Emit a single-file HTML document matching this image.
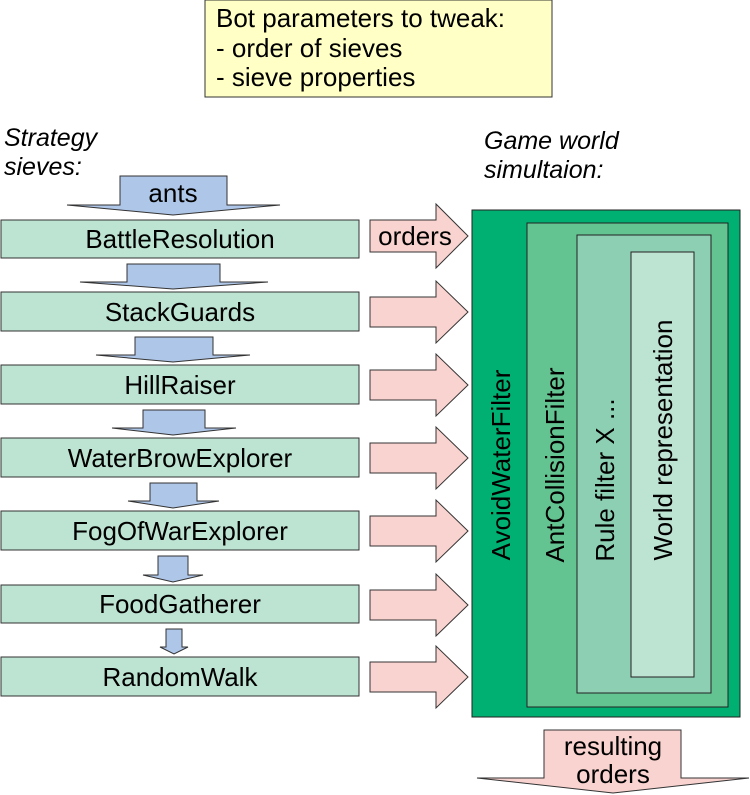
<!DOCTYPE html>
<html><head><meta charset="utf-8"><style>body{margin:0;background:#fff}svg{display:block}</style></head><body>
<svg width="750" height="795" xmlns="http://www.w3.org/2000/svg" font-family="Liberation Sans, sans-serif" fill="#000">
<rect x="205" y="0" width="347" height="97" fill="#ffffc6" stroke="#333" stroke-width="1"/>
<text x="216" y="27" font-size="26">Bot parameters to tweak:</text>
<text x="216" y="57" font-size="26">- order of sieves</text>
<text x="216" y="86" font-size="26">- sieve properties</text>
<text x="4" y="146" font-size="25" font-style="italic">Strategy</text>
<text x="4" y="175" font-size="25" font-style="italic">sieves:</text>
<text x="484" y="149" font-size="25" font-style="italic">Game world</text>
<text x="484" y="178" font-size="25" font-style="italic">simultaion:</text>
<g fill="#aec6e8" stroke="#333" stroke-width="1">
<polygon points="120,176 227,176 227,205 280,205 173,215 67,205 120,205"/>
<polygon points="127,264 220,264 220,282 268,282 173,289 80,282 127,282"/>
<polygon points="135,337 213,337 213,355 250,355 173,362 96,355 135,355"/>
<polygon points="143,410 205,410 205,428 236,428 173,435 112,428 143,428"/>
<polygon points="150,483 197,483 197,501 219,501 173,508 128,501 150,501"/>
<polygon points="158,556 188,556 188,575 203,575 173,582 143,575 158,575"/>
<polygon points="166,629 182,629 182,647 188,647 174,654 160,647 166,647"/>
</g>
<text x="173" y="202" font-size="26" text-anchor="middle">ants</text>
<g fill="#bde3d2" stroke="#333" stroke-width="1">
<rect x="1" y="220" width="358" height="38"/>
<rect x="1" y="292" width="358" height="39"/>
<rect x="1" y="365" width="358" height="39"/>
<rect x="1" y="438" width="358" height="39"/>
<rect x="1" y="511" width="358" height="39"/>
<rect x="1" y="585" width="358" height="38"/>
<rect x="1" y="657" width="358" height="39"/>
</g>
<g font-size="26" text-anchor="middle">
<text x="180" y="248">BattleResolution</text>
<text x="180" y="321">StackGuards</text>
<text x="180" y="394">HillRaiser</text>
<text x="180" y="467">WaterBrowExplorer</text>
<text x="180" y="540">FogOfWarExplorer</text>
<text x="180" y="613">FoodGatherer</text>
<text x="180" y="686">RandomWalk</text>
</g>
<g fill="#f9d3d0" stroke="#333" stroke-width="1">
<polygon points="370,220 436,220 436,204 468,236 436,268 436,252 370,252"/>
<polygon points="370,297 436,297 436,281 468,312 436,343 436,327 370,327"/>
<polygon points="370,370 436,370 436,354 468,385 436,416 436,400 370,400"/>
<polygon points="370,443 436,443 436,427 468,458 436,489 436,473 370,473"/>
<polygon points="370,516 436,516 436,500 468,531 436,562 436,546 370,546"/>
<polygon points="370,590 436,590 436,574 468,605 436,636 436,620 370,620"/>
<polygon points="370,662 436,662 436,646 468,677 436,708 436,692 370,692"/>
<polygon points="544,730 681,730 681,778 749,778 613,793 477,778 544,778"/>
</g>
<text x="415" y="245" font-size="26" text-anchor="middle">orders</text>
<text x="613" y="755" font-size="26" text-anchor="middle">resulting</text>
<text x="613" y="783" font-size="26" text-anchor="middle">orders</text>
<rect x="472" y="210" width="268" height="507" fill="#00b072" stroke="#222"/>
<rect x="527" y="223" width="201" height="484" fill="#64c491" stroke="#222"/>
<rect x="577" y="235" width="134" height="458" fill="#8ccfb3" stroke="#222"/>
<rect x="631" y="252" width="63" height="425" fill="#bde3d2" stroke="#222"/>
<g font-size="26" text-anchor="middle">
<text transform="translate(510,465) rotate(-90)">AvoidWaterFilter</text>
<text transform="translate(564,465) rotate(-90)">AntCollisionFilter</text>
<text transform="translate(614,480) rotate(-90)">Rule filter X ...</text>
<text transform="translate(672,440) rotate(-90)">World representation</text>
</g>
</svg>
</body></html>
